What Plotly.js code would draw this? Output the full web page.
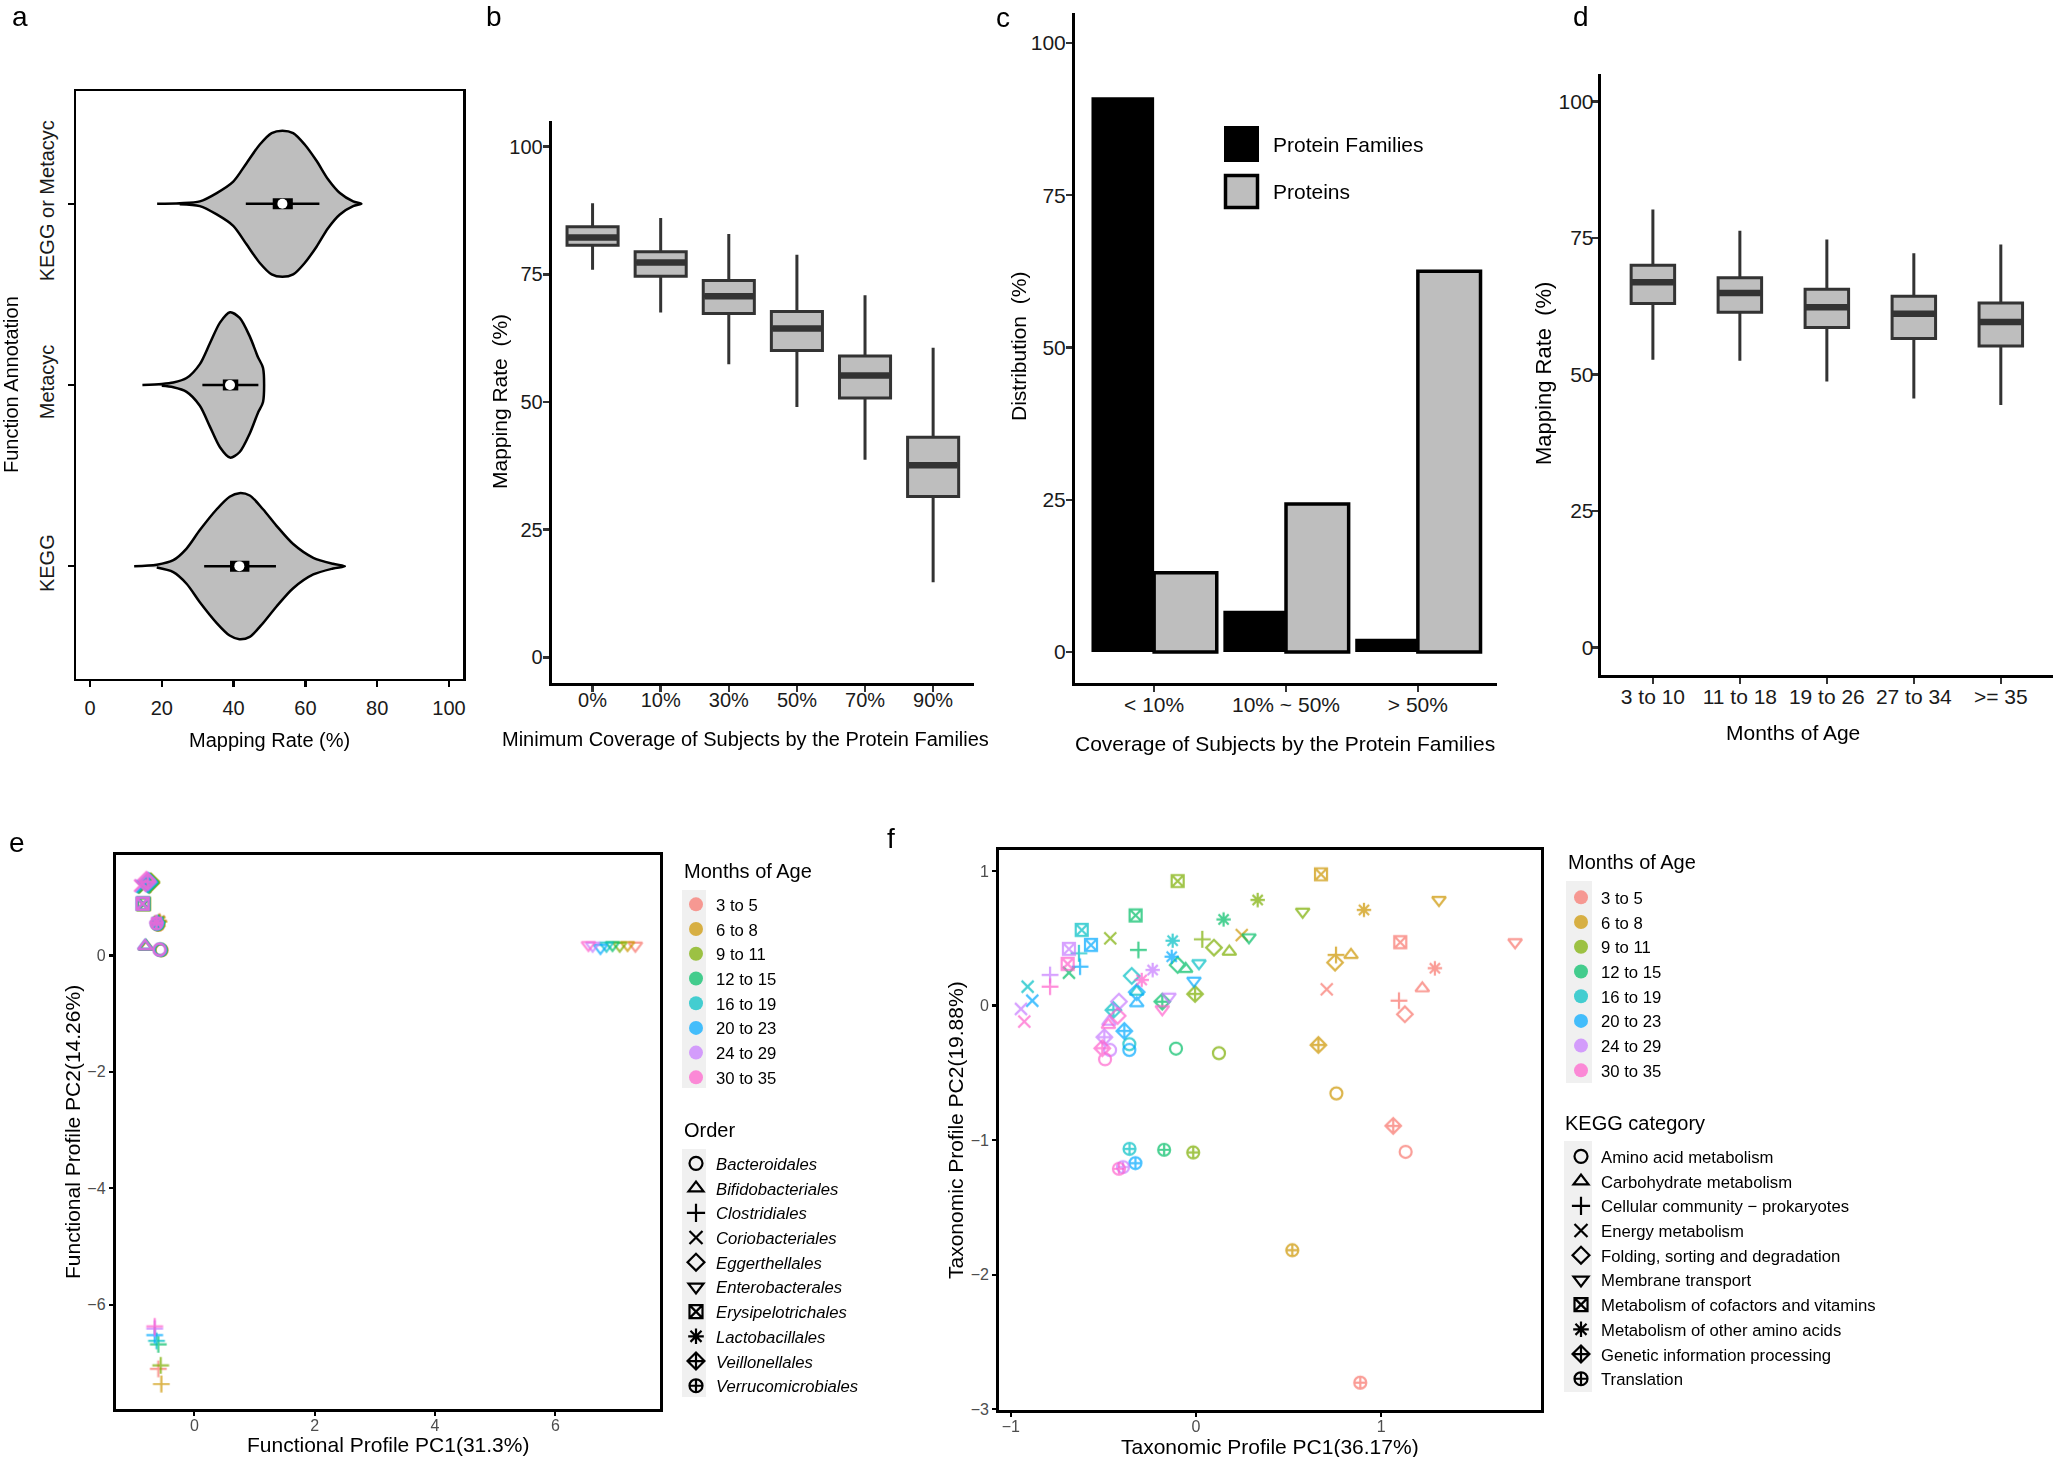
<!DOCTYPE html>
<html>
<head>
<meta charset="utf-8">
<script src="https://cdn.plot.ly/plotly-3.0.1.min.js"></script>
<style>
  html, body { margin: 0; padding: 0; background: #fff; }
  #chart { width: 2054px; height: 1457px; }
</style>
</head>
<body>
<div id="chart"></div>
<script>
// ---------- a: mapping rate by annotation source (violin profiles + inner box) ----------
const aCats = ['KEGG', 'Metacyc', 'KEGG or Metacyc'];
// density profile of each violin: mapping rate (%) and half-width (category units)
const aRateKEGG = [12.3, 18.6, 23.2, 26.9, 30.6, 35.3, 38.9, 41.6, 44.5, 48.2, 51.9, 56.6, 62.2, 67.7, 71.0];
const aHalfKEGG = [0, 0.008, 0.033, 0.097, 0.199, 0.314, 0.383, 0.403, 0.390, 0.314, 0.224, 0.122, 0.046, 0.013, 0];
const aRateMeta = [14.6, 20.0, 23.2, 26.9, 30.6, 33.4, 36.2, 39.0, 41.7, 44.5, 46.8, 48.2];
const aHalfMeta = [0, 0.005, 0.013, 0.038, 0.115, 0.230, 0.344, 0.401, 0.370, 0.268, 0.153, 0.094];
const aRateBoth = [18.7, 25.0, 30.6, 35.3, 39.9, 43.6, 47.3, 50.6, 53.6, 56.6, 59.8, 63.1, 66.3, 69.6, 73.3, 75.6];
const aHalfBoth = [0, 0.003, 0.013, 0.059, 0.122, 0.224, 0.327, 0.390, 0.403, 0.390, 0.327, 0.237, 0.135, 0.059, 0.013, 0];
const aLow  = [31.8, 31.3, 43.4];
const aQ1   = [39.0, 37.0, 50.9];
const aMed  = [41.6, 39.0, 53.6];
const aQ3   = [44.4, 41.3, 56.5];
const aHigh = [51.8, 46.9, 63.9];

// ---------- b: mapping rate vs. minimum subject coverage ----------
const bCats = ['0%', '10%', '30%', '50%', '70%', '90%'];
const bLow  = [75.9, 67.5, 57.4, 49.0, 38.7, 14.7];
const bQ1   = [80.7, 74.6, 67.3, 60.1, 50.8, 31.5];
const bMed  = [82.2, 77.3, 70.7, 64.4, 55.2, 37.6];
const bQ3   = [84.3, 79.4, 73.8, 67.7, 59.0, 43.1];
const bHigh = [88.9, 86.0, 82.9, 78.8, 70.9, 60.6];

// ---------- c: distribution by coverage ----------
const cCats = ['< 10%', '10% ~ 50%', '> 50%'];
const cFamilies = [91.1, 6.8, 2.2];
const cProteins = [13.0, 24.3, 62.5];

// ---------- d: mapping rate by age ----------
const dCats = ['3 to 10', '11 to 18', '19 to 26', '27 to 34', '>= 35'];
const dLow  = [52.7, 52.5, 48.7, 45.6, 44.4];
const dQ1   = [63.0, 61.4, 58.6, 56.6, 55.2];
const dMed  = [66.9, 64.9, 62.3, 61.1, 59.6];
const dQ3   = [70.0, 67.7, 65.6, 64.3, 63.1];
const dHigh = [80.2, 76.3, 74.7, 72.2, 73.8];

// ---------- e / f: PCA of functional and taxonomic profiles ----------
const ages = ['3 to 5', '6 to 8', '9 to 11', '12 to 15', '16 to 19', '20 to 23', '24 to 29', '30 to 35'];
const ageColors = ['#F8766D', '#CD9600', '#7CAE00', '#00BE67', '#00BFC4', '#00A9FF', '#C77CFF', '#FF61CC'];
const orders = ['Bacteroidales', 'Bifidobacteriales', 'Clostridiales', 'Coriobacteriales', 'Eggerthellales',
                'Enterobacterales', 'Erysipelotrichales', 'Lactobacillales', 'Veillonellales', 'Verrucomicrobiales'];
const keggCats = ['Amino acid metabolism', 'Carbohydrate metabolism', 'Cellular community \u2212 prokaryotes',
                  'Energy metabolism', 'Folding, sorting and degradation', 'Membrane transport',
                  'Metabolism of cofactors and vitamins', 'Metabolism of other amino acids',
                  'Genetic information processing', 'Translation'];
const shapeSymbols = ['circle-open', 'triangle-up-open', 'cross-thin-open', 'x-thin-open', 'diamond-open',
                      'triangle-down-open', 'square-x-open', 'asterisk-open', 'diamond-cross-open', 'circle-cross-open'];

// rows: age groups; columns: orders (same order as `orders`)
const ePC1 = [
  [-0.55, -0.80, -0.60, -0.84, -0.74, 7.33, -0.85, -0.58, -0.73, -0.60],
  [-0.55, -0.80, -0.55, -0.83, -0.73, 7.20, -0.84, -0.57, -0.72, -0.60],
  [-0.56, -0.81, -0.56, -0.82, -0.72, 7.07, -0.84, -0.59, -0.72, -0.61],
  [-0.56, -0.81, -0.60, -0.84, -0.74, 6.95, -0.85, -0.60, -0.74, -0.61],
  [-0.57, -0.81, -0.63, -0.86, -0.76, 6.85, -0.85, -0.61, -0.75, -0.62],
  [-0.57, -0.82, -0.66, -0.87, -0.77, 6.75, -0.86, -0.62, -0.76, -0.62],
  [-0.58, -0.82, -0.66, -0.89, -0.79, 6.62, -0.86, -0.63, -0.77, -0.63],
  [-0.58, -0.82, -0.66, -0.90, -0.80, 6.55, -0.86, -0.63, -0.78, -0.63]
];
const ePC2 = [
  [0.09, 0.15, -7.10, 1.17, 1.26, 0.17, 0.88, 0.60, 1.24, 0.53],
  [0.09, 0.15, -7.36, 1.18, 1.27, 0.18, 0.88, 0.58, 1.25, 0.53],
  [0.10, 0.15, -7.04, 1.18, 1.27, 0.17, 0.89, 0.59, 1.25, 0.54],
  [0.09, 0.16, -6.68, 1.17, 1.26, 0.18, 0.88, 0.57, 1.24, 0.54],
  [0.10, 0.16, -6.62, 1.18, 1.27, 0.17, 0.89, 0.56, 1.25, 0.54],
  [0.10, 0.16, -6.52, 1.19, 1.28, 0.13, 0.89, 0.57, 1.26, 0.55],
  [0.10, 0.16, -6.41, 1.20, 1.29, 0.17, 0.89, 0.57, 1.26, 0.55],
  [0.10, 0.16, -6.37, 1.20, 1.30, 0.18, 0.89, 0.57, 1.27, 0.55]
];
// rows: age groups; columns: KEGG categories (same order as `keggCats`)
const fPC1 = [
  [ 1.132,  1.222,  1.096,  0.706,  1.128,  1.723,  1.103,  1.290,  1.065,  0.887],
  [ 0.758,  0.837,  0.756,  0.247,  0.751,  1.312,  0.675,  0.907,  0.661,  0.520],
  [ 0.124,  0.180,  0.034, -0.463,  0.097,  0.576, -0.099,  0.333, -0.005, -0.015],
  [-0.108, -0.056, -0.311, -0.686, -0.099,  0.286, -0.326,  0.149, -0.182, -0.172],
  [-0.360, -0.320, -0.632, -0.909, -0.347,  0.016, -0.617, -0.126, -0.446, -0.359],
  [-0.360, -0.320, -0.626, -0.884, -0.320, -0.011, -0.567, -0.131, -0.387, -0.327],
  [-0.464, -0.470, -0.788, -0.945, -0.416, -0.146, -0.686, -0.234, -0.495, -0.394],
  [-0.491, -0.473, -0.788, -0.927, -0.423, -0.182, -0.693, -0.293, -0.506, -0.416]
];
const fPC2 = [
  [-1.087,  0.128,  0.036,  0.121, -0.065,  0.470,  0.470,  0.277, -0.894, -2.802],
  [-0.653,  0.376,  0.376,  0.524,  0.319,  0.784,  0.975,  0.710, -0.293, -1.818],
  [-0.354,  0.400,  0.492,  0.500,  0.430,  0.697,  0.925,  0.784,  0.086, -1.092],
  [-0.320,  0.272,  0.413,  0.244,  0.301,  0.507,  0.670,  0.640,  0.029, -1.072],
  [-0.287,  0.103,  0.388,  0.140,  0.220,  0.314,  0.561,  0.482, -0.033, -1.065],
  [-0.330,  0.017,  0.289,  0.036,  0.100,  0.185,  0.450,  0.363, -0.189, -1.171],
  [-0.330, -0.120,  0.227, -0.025,  0.029,  0.066,  0.420,  0.264, -0.235, -1.200],
  [-0.399, -0.144,  0.140, -0.119, -0.077, -0.027,  0.309,  0.190, -0.317, -1.213]
];

// ---------- drawing ----------
const FONT = 'Liberation Sans, Arimo, Arial, Helvetica, sans-serif';
const W = 2054, H = 1457;
const fx = p => p / W;       // pixel column -> paper x
const fy = p => 1 - p / H;   // pixel row -> paper y
const GREY = '#BEBEBE';
const POINT_ALPHA = 0.72;
const traces = [];

// a: violins as closed outlines around each category position
const aPos = [1, 2, 3];
[[aRateKEGG, aHalfKEGG], [aRateMeta, aHalfMeta], [aRateBoth, aHalfBoth]].forEach(([rate, half], i) => {
  const xs = [], ys = [];
  rate.forEach((r, k) => { xs.push(r); ys.push(aPos[i] + half[k]); });
  for (let k = rate.length - 1; k >= 0; k--) {
    if ((k === rate.length - 1 || k === 0) && half[k] === 0) continue;
    xs.push(rate[k]); ys.push(aPos[i] - half[k]);
  }
  traces.push({
    type: 'scatter', mode: 'lines', x: xs, y: ys, xaxis: 'x', yaxis: 'y',
    fill: 'toself', fillcolor: GREY,
    line: { color: '#000', width: 2.5, shape: 'spline', smoothing: 0.8 },
    hoverinfo: 'skip', showlegend: false
  });
});
const seg = (a, b, pos) => { const x = [], y = []; a.forEach((v, i) => { x.push(v, b[i], null); y.push(pos[i], pos[i], null); }); return { x, y }; };
const aWh = seg(aLow, aHigh, aPos);
traces.push({ type: 'scatter', mode: 'lines', x: aWh.x, y: aWh.y, xaxis: 'x', yaxis: 'y',
  line: { color: '#000', width: 2.5 }, hoverinfo: 'skip', showlegend: false });
const aBx = seg(aQ1, aQ3, aPos);
traces.push({ type: 'scatter', mode: 'lines', x: aBx.x, y: aBx.y, xaxis: 'x', yaxis: 'y',
  line: { color: '#000', width: 11 }, hoverinfo: 'skip', showlegend: false });
traces.push({ type: 'scatter', mode: 'markers', x: aMed, y: aPos, xaxis: 'x', yaxis: 'y',
  marker: { color: '#fff', size: 10, line: { width: 0 } }, hoverinfo: 'skip', showlegend: false });

// b and d: precomputed box statistics with a heavier median bar
// ('line-ew' markers are 1.4 x size wide)
function boxSet(cats, lo, q1, med, q3, hi, xa, ya, width, medPx) {
  traces.push({
    type: 'box', x: cats, lowerfence: lo, q1: q1, median: med, q3: q3, upperfence: hi,
    xaxis: xa, yaxis: ya, width: width, whiskerwidth: 0, boxpoints: false,
    fillcolor: GREY, line: { color: '#333', width: 3 }, hoverinfo: 'skip', showlegend: false
  });
  traces.push({
    type: 'scatter', mode: 'markers', x: cats, y: med, xaxis: xa, yaxis: ya,
    marker: { symbol: 'line-ew', size: medPx / 1.4, color: '#333', line: { color: '#333', width: 6.5 } },
    hoverinfo: 'skip', showlegend: false
  });
}
boxSet(bCats, bLow, bQ1, bMed, bQ3, bHigh, 'x2', 'y2', 0.75, 49);
boxSet(dCats, dLow, dQ1, dMed, dQ3, dHigh, 'x4', 'y4', 0.5, 42);

// c: grouped bars
traces.push({ type: 'bar', name: 'Protein Families', x: cCats, y: cFamilies, xaxis: 'x3', yaxis: 'y3',
  marker: { color: '#000', line: { width: 0 } }, hoverinfo: 'skip', showlegend: false });
traces.push({ type: 'bar', name: 'Proteins', x: cCats, y: cProteins, xaxis: 'x3', yaxis: 'y3',
  marker: { color: GREY, line: { color: '#000', width: 3.5 } }, hoverinfo: 'skip', showlegend: false });

// e and f: one trace per age group, symbols by category
function pcaPoints(px, py, xa, ya) {
  ages.forEach((age, i) => {
    traces.push({
      type: 'scatter', mode: 'markers', x: px[i], y: py[i], xaxis: xa, yaxis: ya,
      marker: { color: ageColors[i], symbol: shapeSymbols, size: 12, line: { color: ageColors[i], width: 2.2 } },
      opacity: POINT_ALPHA, hoverinfo: 'skip', showlegend: false
    });
  });
}
pcaPoints(ePC1, ePC2, 'x5', 'y5');
pcaPoints(fPC1, fPC2, 'x6', 'y6');

// legend entries for e and f
function legendEntries(labels, italic, legendId, colorLegendId) {
  ages.forEach((age, i) => traces.push({
    type: 'scatter', mode: 'markers', x: [null], y: [null], xaxis: 'x5', yaxis: 'y5',
    name: age, legend: colorLegendId, showlegend: true,
    marker: { color: ageColors[i], symbol: 'circle', size: 14, opacity: POINT_ALPHA }
  }));
  labels.forEach((lab, i) => traces.push({
    type: 'scatter', mode: 'markers', x: [null], y: [null], xaxis: 'x5', yaxis: 'y5',
    name: italic ? '<i>' + lab + '</i>' : lab, legend: legendId, showlegend: true,
    marker: { color: '#000', symbol: shapeSymbols[i], size: 13, line: { color: '#000', width: 2.2 } }
  }));
}
legendEntries(orders, true, 'legend2', 'legend');
legendEntries(keggCats, false, 'legend4', 'legend3');

// ---------- axes ----------
const base = {
  showgrid: false, zeroline: false, showline: true, linecolor: '#000', fixedrange: true,
  ticks: 'outside', automargin: false
};
const topAxis = Object.assign({}, base, {
  linewidth: 3, ticklen: 6, tickwidth: 2.5, tickcolor: '#333',
  tickfont: { size: 20, color: '#1a1a1a', family: FONT }
});
const bigTick = { size: 21, color: '#1a1a1a', family: FONT };
const pcaAxis = Object.assign({}, base, {
  mirror: true, linewidth: 2.8, ticklen: 4, tickwidth: 2.2, tickcolor: '#000',
  tickfont: { size: 16, color: '#4D4D4D', family: FONT }
});
const legendBase = {
  xanchor: 'left', yanchor: 'top', bgcolor: 'rgba(0,0,0,0)', font: { size: 16.7, family: FONT },
  tracegroupgap: 0, itemclick: false, itemdoubleclick: false
};

const layout = {
  width: W, height: H, margin: { l: 0, r: 0, t: 0, b: 0 },
  paper_bgcolor: '#fff', plot_bgcolor: '#fff',
  font: { family: FONT, color: '#000' },
  barmode: 'group', bargap: 0.05, bargroupgap: 0,
  hovermode: false,

  xaxis: Object.assign({}, topAxis, { domain: [fx(76), fx(463)], range: [-3.9, 103.9], anchor: 'y',
    tickvals: [0, 20, 40, 60, 80, 100], mirror: true, linewidth: 2.5, tickcolor: '#000', ticklabelstandoff: 4 }),
  yaxis: Object.assign({}, topAxis, { domain: [fy(678.5), fy(91.4)], range: [0.38, 3.62], anchor: 'x',
    tickvals: aPos, ticktext: aCats, tickangle: -90, mirror: true, linewidth: 2.5, tickcolor: '#000',
    ticklabelstandoff: 6 }),

  xaxis2: Object.assign({}, topAxis, { domain: [fx(551.7), fx(974)], type: 'category', categoryarray: bCats,
    range: [-0.6, 5.6], anchor: 'y2', ticklabelstandoff: -9 }),
  yaxis2: Object.assign({}, topAxis, { domain: [fy(683), fy(121)], range: [-5, 105], anchor: 'x2',
    tickvals: [0, 25, 50, 75, 100], ticklabelstandoff: -4 }),

  xaxis3: Object.assign({}, topAxis, { domain: [fx(1075), fx(1497)], type: 'category', categoryarray: cCats,
    range: [-0.6, 2.6], anchor: 'y3', tickfont: bigTick, ticklabelstandoff: -5 }),
  yaxis3: Object.assign({}, topAxis, { domain: [fy(682.5), fy(12.5)], range: [-5, 105], anchor: 'x3',
    tickvals: [0, 25, 50, 75, 100], tickfont: bigTick, ticklabelstandoff: -4 }),

  xaxis4: Object.assign({}, topAxis, { domain: [fx(1600.7), fx(2053)], type: 'category', categoryarray: dCats,
    range: [-0.6, 4.6], anchor: 'y4', tickfont: bigTick, ticklabelstandoff: -5 }),
  yaxis4: Object.assign({}, topAxis, { domain: [fy(675), fy(74)], range: [-5, 105], anchor: 'x4',
    tickvals: [0, 25, 50, 75, 100], tickfont: bigTick, ticklabelstandoff: -6 }),

  xaxis5: Object.assign({}, pcaAxis, { domain: [fx(115.6), fx(660)], range: [-1.31, 7.74], anchor: 'y5',
    tickvals: [0, 2, 4, 6], ticklabelstandoff: -4 }),
  yaxis5: Object.assign({}, pcaAxis, { domain: [fy(1409), fy(854.7)], range: [-7.79, 1.73], anchor: 'x5',
    tickvals: [-6, -4, -2, 0] }),

  xaxis6: Object.assign({}, pcaAxis, { domain: [fx(998.9), fx(1540.8)], range: [-1.064, 1.862], anchor: 'y6',
    tickvals: [-1, 0, 1], ticklabelstandoff: -4 }),
  yaxis6: Object.assign({}, pcaAxis, { domain: [fy(1410), fy(849.8)], range: [-3.005, 1.157], anchor: 'x6',
    tickvals: [-3, -2, -1, 0, 1] }),

  legend:  Object.assign({}, legendBase, { x: fx(676), y: fy(887) }),
  legend2: Object.assign({}, legendBase, { x: fx(676), y: fy(1146) }),
  legend3: Object.assign({}, legendBase, { x: fx(1561), y: fy(880) }),
  legend4: Object.assign({}, legendBase, { x: fx(1561), y: fy(1139) }),

  shapes: [
    // c legend keys
    { type: 'rect', xref: 'paper', yref: 'paper', x0: fx(1224), x1: fx(1259), y0: fy(162), y1: fy(126),
      fillcolor: '#000', line: { width: 0 } },
    { type: 'rect', xref: 'paper', yref: 'paper', x0: fx(1225.5), x1: fx(1257.5), y0: fy(207.5), y1: fy(175.5),
      fillcolor: GREY, line: { color: '#000', width: 3.5 } },
    // grey key columns behind the e / f legends
    { type: 'rect', xref: 'paper', yref: 'paper', x0: fx(682), x1: fx(706), y0: fy(1088), y1: fy(890),
      fillcolor: '#F0F0F0', line: { width: 0 }, layer: 'below' },
    { type: 'rect', xref: 'paper', yref: 'paper', x0: fx(682), x1: fx(706), y0: fy(1397), y1: fy(1149),
      fillcolor: '#F0F0F0', line: { width: 0 }, layer: 'below' },
    { type: 'rect', xref: 'paper', yref: 'paper', x0: fx(1566), x1: fx(1592), y0: fy(1083), y1: fy(881),
      fillcolor: '#F0F0F0', line: { width: 0 }, layer: 'below' },
    { type: 'rect', xref: 'paper', yref: 'paper', x0: fx(1564), x1: fx(1592), y0: fy(1392), y1: fy(1141),
      fillcolor: '#F0F0F0', line: { width: 0 }, layer: 'below' }
  ],

  annotations: []
};

function note(text, x, y, size, opts) {
  layout.annotations.push(Object.assign({
    text: text, xref: 'paper', yref: 'paper', x: fx(x), y: fy(y), showarrow: false,
    xanchor: 'center', yanchor: 'middle', font: { size: size, family: FONT, color: '#000' }
  }, opts || {}));
}
// panel letters
note('a', 20, 16, 28); note('b', 494, 16, 28); note('c', 1003, 18, 28);
note('d', 1581, 16, 28); note('e', 17, 842, 28); note('f', 891, 838, 28);
// axis titles
note('Mapping Rate (%)', 269.5, 740, 20);
note('Function Annotation', 11, 385, 20, { textangle: -90 });
note('Minimum Coverage of Subjects by the Protein Families', 745, 739, 20);
note('Mapping Rate  (%)', 499, 402, 21, { textangle: -90 });
note('Coverage of Subjects by the Protein Families', 1285, 744, 21);
note('Distribution  (%)', 1018, 347, 21, { textangle: -90 });
note('Months of Age', 1793, 732, 21);
note('Mapping Rate  (%)', 1543, 374, 22, { textangle: -90 });
note('Functional Profile PC1(31.3%)', 388, 1444, 21);
note('Functional Profile PC2(14.26%)', 72, 1132, 21, { textangle: -90 });
note('Taxonomic Profile PC1(36.17%)', 1270, 1446, 21);
note('Taxonomic Profile PC2(19.88%)', 955, 1130, 21, { textangle: -90 });
// c legend labels
note('Protein Families', 1271, 144, 21, { xanchor: 'left' });
note('Proteins', 1271, 191, 21, { xanchor: 'left' });
// e / f legend titles
note('Months of Age', 682, 871, 20, { xanchor: 'left' });
note('Order', 682, 1130, 20, { xanchor: 'left' });
note('Months of Age', 1566, 862, 20, { xanchor: 'left' });
note('KEGG category', 1563, 1123, 20, { xanchor: 'left' });

Plotly.newPlot('chart', traces, layout, { staticPlot: true, displayModeBar: false });
</script>
</body>
</html>
